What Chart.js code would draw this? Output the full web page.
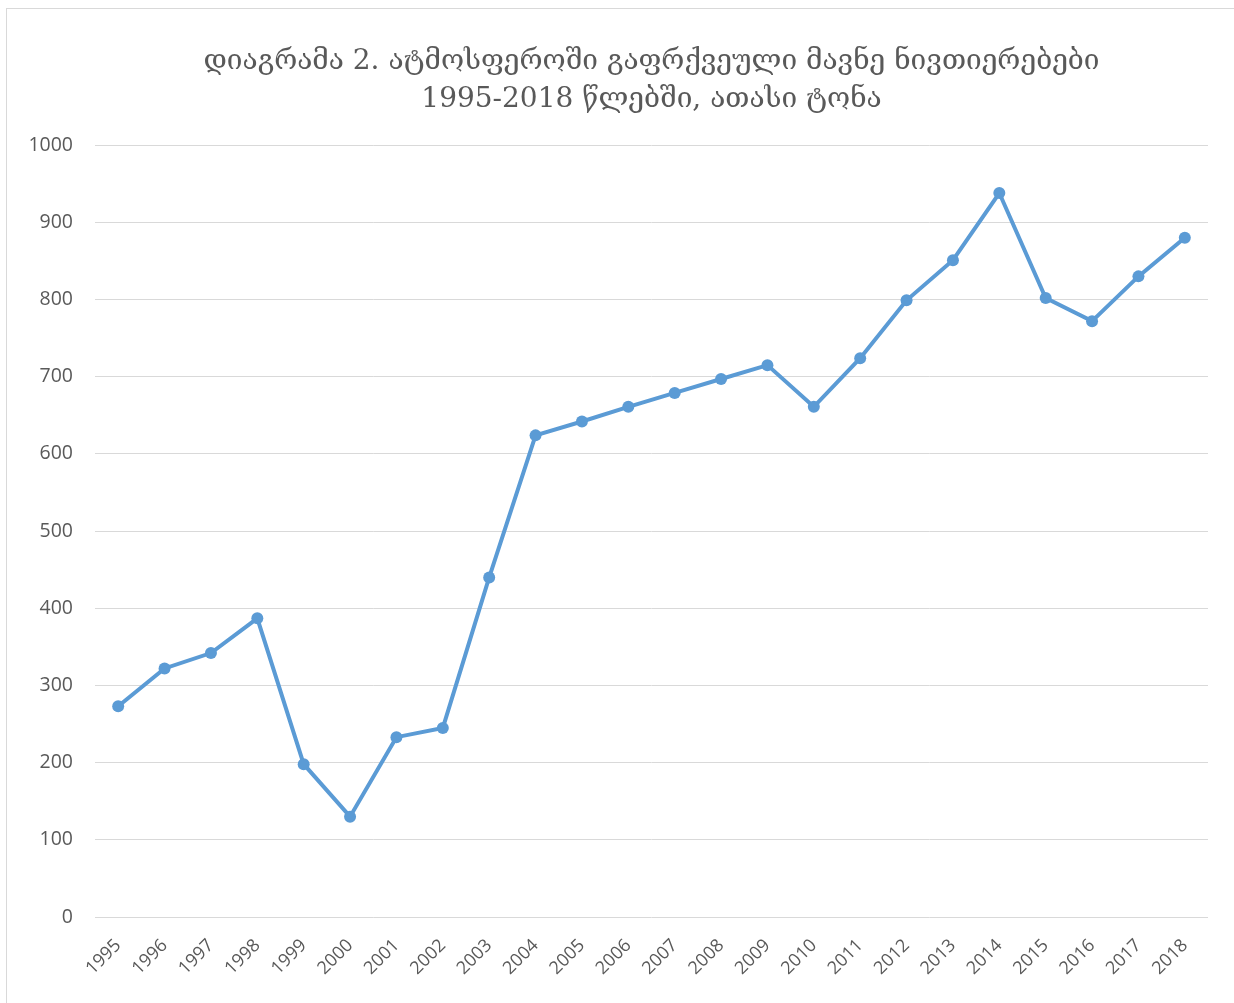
<!DOCTYPE html>
<html>
<head>
<meta charset="utf-8">
<script src="https://cdn.jsdelivr.net/npm/chart.js@4/dist/chart.umd.min.js"></script>
<style>
  body { margin: 0; background: #fff; }
  #wrap { position: absolute; left: 0; top: 0; width: 1234px; height: 1003px; }
  #frame { position: absolute; left: 6px; top: 8px; width: 1240px; height: 1010px; border: 1px solid #d9d9d9; }
</style>
</head>
<body>
<div id="frame"></div>
<div id="wrap"><canvas id="graph"></canvas></div>
<script>
// years on the x axis
const years = ['1995','1996','1997','1998','1999','2000','2001','2002','2003','2004','2005','2006',
  '2007','2008','2009','2010','2011','2012','2013','2014','2015','2016','2017','2018'];

// emissions, thousand tonnes
const emissions = [273, 322, 342, 387, 198, 130, 233, 245, 440, 624, 642, 661,
  679, 697, 715, 661, 724, 799, 851, 938, 802, 772, 830, 880];

const titleLines = ['დიაგრამა 2. ატმოსფეროში გაფრქვეული მავნე ნივთიერებები', '1995-2018 წლებში, ათასი ტონა'];

const lineColor = '#5b9bd5';

const config = {
  type: 'line',
  data: {
    labels: years,
    datasets: [{
      data: emissions,
      borderColor: lineColor,
      backgroundColor: lineColor,
      borderWidth: 4,
      pointRadius: 6,
      pointHoverRadius: 6,
      pointBorderWidth: 0,
      tension: 0
    }]
  },
  options: {
    responsive: false,
    animation: false,
    layout: { padding: { left: 0, right: 26, top: 0, bottom: 0 } },
    plugins: {
      legend: { display: false },
      tooltip: { enabled: false },
      title: {
        display: true,
        fullSize: false,
        text: titleLines,
        color: '#595959',
        font: { family: '"DejaVu Serif", serif', size: 28, weight: 'normal', lineHeight: 1.36 },
        padding: { top: 43, bottom: 26 }
      }
    },
    scales: {
      x: {
        offset: true,
        grid: { display: false },
        border: { display: false },
        ticks: {
          color: '#595959',
          font: { family: '"Open Sans", sans-serif', size: 18 },
          maxRotation: 45, minRotation: 45,
          autoSkip: false,
          padding: 10
        },
        afterFit(scale) { scale.height = 86; }
      },
      y: {
        min: 0,
        max: 1000,
        grid: { color: '#d9d9d9', lineWidth: 1, drawTicks: false },
        border: { display: false },
        ticks: {
          stepSize: 100,
          color: '#595959',
          font: { family: '"Open Sans", sans-serif', size: 19.5 },
          padding: 22,
          callback: (v) => String(v)
        },
        afterFit(scale) { scale.width = 95; }
      }
    }
  }
};

const canvas = document.getElementById('graph');
canvas.width = 1234;
canvas.height = 1003;
const chart = new Chart(canvas, config);
</script>
</body>
</html>
